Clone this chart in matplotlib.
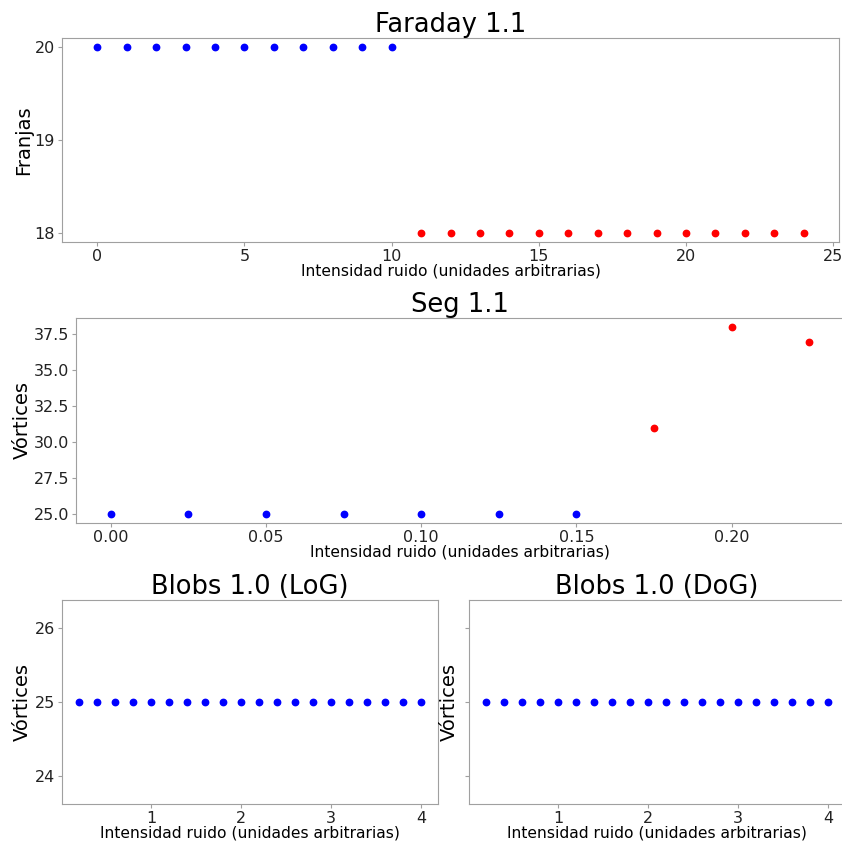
import matplotlib
matplotlib.use("Agg")
import matplotlib.pyplot as plt
import numpy as np

# Faraday 1.1 - franjas vs ruido
far_x_ok = list(range(0, 11))
far_y_ok = [20] * 11
far_x_bad = list(range(11, 25))
far_y_bad = [18] * 14

# Seg 1.1 - vortices vs ruido
seg_x_ok = [0.0, 0.025, 0.05, 0.075, 0.1, 0.125, 0.15]
seg_y_ok = [25, 25, 25, 25, 25, 25, 25]
seg_x_bad = [0.175, 0.2, 0.225]
seg_y_bad = [31, 38, 37]

# Blobs 1.0 (LoG y DoG)
blob_x = [0.2, 0.4, 0.6, 0.8, 1.0, 1.2, 1.4, 1.6, 1.8, 2.0,
          2.2, 2.4, 2.6, 2.8, 3.0, 3.2, 3.4, 3.6, 3.8, 4.0]
log_y = [25] * 20
dog_y = [25] * 20
blob_ticks = [24, 25, 26]

xlab = "Intensidad ruido (unidades arbitrarias)"
spine_col = "#a0a0a0"
ms = 4.6

fig = plt.figure(figsize=(8.42, 8.42), dpi=100)

W = 842.0
def pos(l, t, r, b):
    return [l / W, 1 - b / W, (r - l) / W, (b - t) / W]

ax1 = fig.add_axes(pos(62, 38, 839, 242))
ax2 = fig.add_axes(pos(76, 318, 844, 523))
ax3 = fig.add_axes(pos(62, 600, 438, 804))
ax4 = fig.add_axes(pos(469, 600, 845, 804), sharey=ax3)

ax1.plot(far_x_ok, far_y_ok, 'o', color='b', ms=ms)
ax1.plot(far_x_bad, far_y_bad, 'o', color='r', ms=ms)
ax1.set_yticks([18, 19, 20])
ax1.set_title("Faraday 1.1", fontsize=18.5, pad=3)
ax1.set_ylabel("Franjas", fontsize=14, labelpad=1)

ax2.plot(seg_x_ok, seg_y_ok, 'o', color='b', ms=ms)
ax2.plot(seg_x_bad, seg_y_bad, 'o', color='r', ms=ms)
ax2.set_title("Seg 1.1", fontsize=18.5, pad=3)
ax2.set_ylabel("Vórtices", fontsize=14, labelpad=1)

ax3.plot(blob_x, log_y, 'o', color='b', ms=ms)
ax3.set_yticks(blob_ticks)
ax3.set_title("Blobs 1.0 (LoG)", fontsize=18.5, pad=3)
ax3.set_ylabel("Vórtices", fontsize=14, labelpad=2)

ax4.plot(blob_x, dog_y, 'o', color='b', ms=ms)
ax4.set_title("Blobs 1.0 (DoG)", fontsize=18.5, pad=3)
ax4.set_ylabel("Vórtices", fontsize=14, labelpad=4)
ax4.tick_params(axis='y', labelleft=False)

for ax in [ax1, ax2, ax3, ax4]:
    ax.set_xlabel(xlab, fontsize=11.2, labelpad=0)
    ax.tick_params(labelsize=11.5, colors='#222222', length=3, pad=2)
    ax.tick_params(color=spine_col)
    for s in ax.spines.values():
        s.set_color(spine_col)

fig.savefig("out.png", dpi=100)
